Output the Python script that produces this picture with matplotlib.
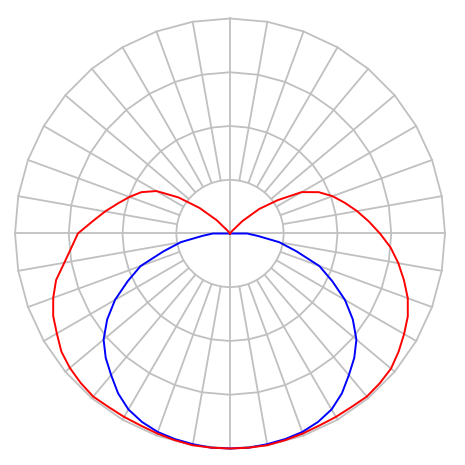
import numpy as np
import matplotlib
matplotlib.use("Agg")
import matplotlib.pyplot as plt

# gamma angles (deg from nadir), 5 deg steps
gamma = np.arange(0, 181, 5)

# C0 plane (right half), cd/klm
red_c0 = [400, 400, 400, 398, 396, 394, 394, 394, 396, 394, 391, 383, 374, 365,
          352, 335, 318, 300, 279, 259, 240, 221, 203, 182, 154, 108, 71, 33, 6,
          0, 0, 0, 0, 0, 0, 0, 0]
# C180 plane (left half)
red_c180 = [400, 400, 400, 398, 396, 394, 394, 394, 396, 393, 389, 383, 372, 363,
            350, 335, 313, 296, 283, 257, 236, 216, 199, 182, 158, 117, 74, 35, 6,
            0, 0, 0, 0, 0, 0, 0, 0]

gamma_b = np.arange(0, 96, 5)
# C90 / C270 planes
blue_c90 = [400, 400, 398, 396, 393, 387, 378, 363, 344, 327, 307, 279, 247, 210,
            177, 128, 93, 52, 32, 0]
blue_c270 = [400, 400, 398, 396, 393, 387, 378, 363, 344, 327, 307, 279, 247, 210,
             177, 128, 93, 52, 32, 0]

rings = [100, 200, 300, 400]
spoke_step = 10


def to_xy(theta_deg, r):
    t = np.radians(theta_deg)
    r = np.asarray(r, dtype=float)
    return r * np.sin(t), -r * np.cos(t)


def main():
    fig = plt.figure(figsize=(4.65, 4.65), dpi=100)
    ax = fig.add_axes([0, 0, 1, 1])
    k = 400 / 215.0
    ax.set_xlim(-230 * k, 235 * k)
    ax.set_ylim(-231.5 * k, 233.5 * k)
    ax.set_aspect("equal")
    ax.axis("off")

    grid_col = "#c0c0c0"
    angs = np.arange(0, 361, spoke_step)
    for rr in rings:
        x, y = to_xy(angs, np.full(len(angs), rr))
        ax.plot(x, y, color=grid_col, lw=1.3, zorder=1)
    for a in angs[:-1]:
        r0 = 0 if a % 90 == 0 else rings[0]
        x, y = to_xy([a, a], [r0, rings[-1]])
        ax.plot(x, y, color=grid_col, lw=1.3, zorder=1)

    # red: C0 / C180
    th = np.concatenate([-gamma[::-1], gamma[1:]])
    rr = np.concatenate([np.array(red_c180)[::-1], np.array(red_c0)[1:]])
    x, y = to_xy(th, rr)
    ax.plot(x, y, color="#ff0000", lw=1.4, zorder=3)

    # blue: C90 / C270
    th = np.concatenate([-gamma_b[::-1], gamma_b[1:]])
    rr = np.concatenate([np.array(blue_c270)[::-1], np.array(blue_c90)[1:]])
    x, y = to_xy(th, rr)
    ax.plot(x, y, color="#0000ff", lw=1.4, zorder=2)

    fig.savefig("out.png", dpi=100)


if __name__ == "__main__":
    main()
